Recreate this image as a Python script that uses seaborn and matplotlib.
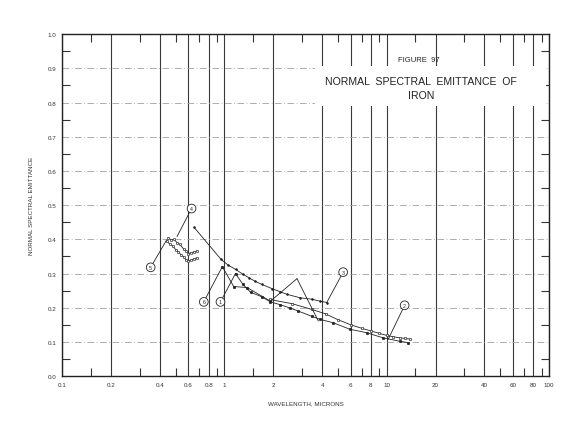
import numpy as np
import pandas as pd
import matplotlib
matplotlib.use("Agg")
import matplotlib.pyplot as plt
import seaborn as sns
from matplotlib.patches import Rectangle

# ---------------- data ----------------
curve1_wl = [1.17, 1.3, 1.45, 1.7, 1.92, 2.2, 2.54, 2.86, 3.45, 3.88, 4.68, 5.93, 7.51, 9.49, 12.0, 13.5]
curve1_em = [0.300, 0.268, 0.245, 0.232, 0.217, 0.209, 0.199, 0.190, 0.175, 0.166, 0.156, 0.137, 0.127, 0.112, 0.102, 0.098]

curve2_wl = [1.9, 2.6, 3.45, 4.2, 5.0, 6.0, 7.0, 8.0, 9.0, 10.0, 11.0, 12.0, 13.0, 14.0]
curve2_em = [0.224, 0.212, 0.195, 0.182, 0.165, 0.150, 0.140, 0.132, 0.125, 0.119, 0.115, 0.112, 0.110, 0.108]

curve3_wl = [0.65, 0.95, 1.05, 1.17, 1.3, 1.41, 1.55, 1.7, 1.96, 2.2, 2.43, 2.93, 3.45, 3.9, 4.3]
curve3_em = [0.435, 0.342, 0.325, 0.312, 0.298, 0.288, 0.277, 0.268, 0.256, 0.247, 0.239, 0.229, 0.225, 0.219, 0.215]

curve4_wl = [0.45, 0.47, 0.49, 0.51, 0.53, 0.56, 0.58, 0.60, 0.62, 0.65, 0.68]
curve4_em = [0.405, 0.398, 0.400, 0.390, 0.385, 0.372, 0.366, 0.358, 0.361, 0.363, 0.367]

curve5_wl = [0.44, 0.46, 0.48, 0.50, 0.52, 0.54, 0.56, 0.58, 0.60, 0.62, 0.65, 0.68]
curve5_em = [0.395, 0.386, 0.381, 0.370, 0.364, 0.354, 0.349, 0.340, 0.338, 0.339, 0.343, 0.346]

curve6_wl = [0.97, 1.14, 1.38, 1.92]
curve6_em = [0.320, 0.262, 0.259, 0.219]

x_major = [0.1, 0.2, 0.4, 0.6, 0.8, 1, 2, 4, 6, 8, 10, 20, 40, 60, 80, 100]
x_major_labels = ["0.1", "0.2", "0.4", "0.6", "0.8", "1", "2", "4", "6", "8", "10", "20", "40", "60", "80", "100"]
x_minor = [0.15, 0.3, 0.5, 0.7, 0.9, 1.5, 3, 5, 7, 9, 15, 30, 50, 70, 90]
y_major = [0.0, 0.1, 0.2, 0.3, 0.4, 0.5, 0.6, 0.7, 0.8, 0.9, 1.0]
y_major_labels = ["0.0", "0.1", "0.2", "0.3", "0.4", "0.5", "0.6", "0.7", "0.8", "0.9", "1.0"]
y_minor = [0.05, 0.15, 0.25, 0.35, 0.45, 0.55, 0.65, 0.75, 0.85, 0.95]

# ---------------- figure ----------------
sns.set_theme(style="white")
plt.rcParams['font.family'] = ['Liberation Sans', 'DejaVu Sans']

fig = plt.figure(figsize=(5.76, 4.39), dpi=100)
ax = fig.add_axes([0.108, 0.141, 0.845, 0.779])
ax.set_xscale('log')

ink = '#222222'
styles = [
    (curve3_wl, curve3_em, dict(marker='o', markersize=1.3, markerfacecolor=ink)),
    (curve6_wl, curve6_em, dict(marker='o', markersize=1.8, markerfacecolor=ink)),
    (curve1_wl, curve1_em, dict(marker='o', markersize=1.8, markerfacecolor=ink)),
    (curve2_wl, curve2_em, dict(marker='s', markersize=1.8, markerfacecolor='white')),
    (curve4_wl, curve4_em, dict(marker='o', markersize=1.7, markerfacecolor='white')),
    (curve5_wl, curve5_em, dict(marker='o', markersize=1.7, markerfacecolor='white')),
]
for wl, em, st in styles:
    df = pd.DataFrame({'wl': wl, 'em': em})
    sns.lineplot(data=df, x='wl', y='em', ax=ax, color=ink, linewidth=0.6,
                 estimator=None, sort=False, legend=False,
                 markeredgecolor=ink, markeredgewidth=0.45, zorder=3, **st)

ax.set_xlim(0.1, 100)
ax.set_ylim(0.0, 1.0)

ax.set_xticks(x_major)
ax.set_xticklabels(x_major_labels)
ax.set_xticks(x_minor, minor=True)
ax.set_xticklabels([], minor=True)
ax.set_yticks(y_major)
ax.set_yticklabels(y_major_labels)
ax.set_yticks(y_minor, minor=True)

ax.tick_params(axis='both', which='major', length=0, labelsize=4.5, colors='#333333', pad=4)
ax.tick_params(axis='x', which='minor', direction='in', length=6, width=0.8,
               top=True, bottom=True, color='#333333')
ax.tick_params(axis='y', which='minor', direction='in', length=6, width=0.8,
               left=True, right=True, color='#333333')

ax.grid(axis='x', which='major', color='#3a3a3a', linewidth=0.8, linestyle='-')
ax.grid(axis='y', which='major', color='#a0a0a0', linewidth=0.6, linestyle=(0, (8, 3, 1, 3)))
for s in ax.spines.values():
    s.set_color('#222222')
    s.set_linewidth(1.0)

ax.set_xlabel("WAVELENGTH, MICRONS", fontsize=4.5, labelpad=10, color='#333333')
ax.set_ylabel("NORMAL SPECTRAL EMITTANCE", fontsize=4.5, labelpad=10, color='#333333')

# title block
ax.add_patch(Rectangle((0.52, 0.789), 0.475, 0.117, transform=ax.transAxes,
                       facecolor='white', edgecolor='none', zorder=2))
ax.text(0.733, 0.927, "FIGURE  97", transform=ax.transAxes, fontsize=5.5,
        ha='center', va='center', color='#222222', zorder=4)
ax.text(0.737, 0.862, "NORMAL  SPECTRAL  EMITTANCE  OF", transform=ax.transAxes,
        fontsize=7.6, ha='center', va='center', color='#222222', zorder=4)
ax.text(0.737, 0.822, "IRON", transform=ax.transAxes, fontsize=7.6,
        ha='center', va='center', color='#222222', zorder=4)

# curve labels with leader lines
circ = dict(boxstyle='circle,pad=0.35', facecolor='white', edgecolor=ink, linewidth=0.6)
arrow = dict(arrowstyle='-', color=ink, linewidth=0.6, shrinkA=0, shrinkB=0)
labels = [
    ("1", (1.17, 0.300), (0.945, 0.217)),
    ("6", (0.97, 0.320), (0.746, 0.217)),
    ("3", (4.27, 0.215), (5.39, 0.304)),
    ("2", (10.2, 0.107), (12.9, 0.207)),
    ("4", (0.51, 0.408), (0.627, 0.490)),
    ("5", (0.44, 0.398), (0.351, 0.318)),
]
for txt, pt, pos in labels:
    ax.annotate(txt, xy=pt, xytext=pos, fontsize=3.8, ha='center', va='center',
                bbox=circ, arrowprops=arrow, zorder=5, color=ink)
# forked leader without label
for tip in [(1.92, 0.219), (3.79, 0.161)]:
    ax.annotate("", xy=tip, xytext=(2.80, 0.285), arrowprops=arrow, zorder=5)

fig.savefig("out.png", dpi=100, facecolor='white')
